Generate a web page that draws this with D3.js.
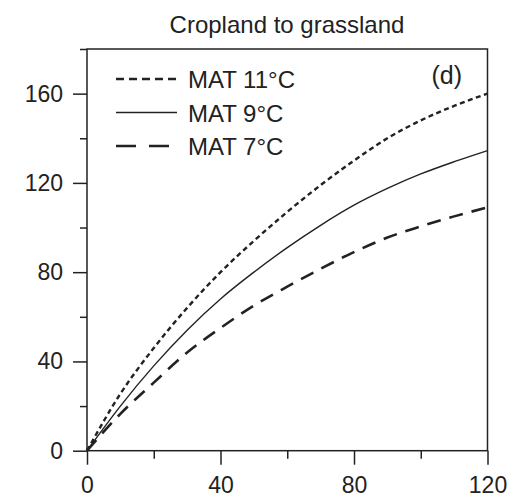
<!DOCTYPE html>
<html><head><meta charset="utf-8">
<script src="https://cdn.jsdelivr.net/npm/d3@7"></script>
<style>body{margin:0;background:#fff}</style>
</head><body>
<svg id="c" width="518" height="497"></svg>
<script>
const years = [0,10,20,30,40,50,60,70,80,90,100,110,120];
const mat11 = [0,25.5,46,64,80,94,107,119,130,140,148,154.5,160];
const mat9  = [0,20,38,54,68,80,91,101,110,117.5,124,129.5,134.5];
const mat7  = [0,16.5,30.5,44,55,65,73.5,81.5,89,95.5,100.5,105,109];
const seriesNames = ["MAT 11°C","MAT 9°C","MAT 7°C"];
const xMajor = [0,40,80,120], xMinor = [20,60,100];
const yMajor = [0,40,80,120,160], yMinor = [20,60,100,140,180];

const svg = d3.select("#c");
const font = "Liberation Sans, Arial, Helvetica, sans-serif";
const ink = "#222";
const x = d3.scaleLinear().domain([0,120]).range([87,487.5]);
const y = d3.scaleLinear().domain([0,180]).range([450.7,49]);

// frame
svg.append("rect").attr("x",x(0)).attr("y",y(180)).attr("width",x(120)-x(0)).attr("height",y(0)-y(180))
  .attr("fill","none").attr("stroke",ink).attr("stroke-width",1.5);

function styleAxis(g){ g.select(".domain").remove(); g.selectAll("line").attr("stroke",ink).attr("stroke-width",1.5);
  g.selectAll("text").attr("fill",ink).style("font-family",font).style("font-size","23px"); }

svg.append("g").attr("transform",`translate(0,${y(0)})`)
  .call(d3.axisBottom(x).tickValues(xMajor).tickSize(14).tickPadding(12).tickFormat(d3.format("d"))).call(styleAxis);
svg.append("g").attr("transform",`translate(0,${y(0)})`)
  .call(d3.axisBottom(x).tickValues(xMinor).tickSize(8).tickFormat("")).call(styleAxis);
svg.append("g").attr("transform",`translate(${x(0)},0)`)
  .call(d3.axisLeft(y).tickValues(yMajor).tickSize(14).tickPadding(10).tickFormat(d3.format("d"))).call(styleAxis);
svg.append("g").attr("transform",`translate(${x(0)},0)`)
  .call(d3.axisLeft(y).tickValues(yMinor).tickSize(7).tickFormat("")).call(styleAxis);

const styles = [
  {dash:"5,3.5", w:2.4, ldash:"8,5"},
  {dash:null, w:1.4, ldash:null},
  {dash:"14,9", w:2.6, ldash:"20,13"}
];
const data = [mat11, mat9, mat7];
const line = d3.line().x((d,i)=>x(years[i])).y(d=>y(d)).curve(d3.curveMonotoneX);
data.forEach((s,k)=>{
  svg.append("path").datum(s).attr("d",line).attr("fill","none").attr("stroke",ink)
    .attr("stroke-width",styles[k].w).attr("stroke-dasharray",styles[k].dash);
});

// legend
seriesNames.forEach((n,k)=>{
  const ly = 79 + k*33.5;
  svg.append("line").attr("x1",116).attr("x2",177).attr("y1",ly).attr("y2",ly)
    .attr("stroke",ink).attr("stroke-width",styles[k].w).attr("stroke-dasharray",styles[k].ldash);
  svg.append("text").attr("x",188).attr("y",ly+9).text(n).attr("fill",ink)
    .style("font-family",font).style("font-size","24px");
});

svg.append("text").attr("x",462).attr("y",84).attr("text-anchor","end").text("(d)").attr("fill",ink)
  .style("font-family",font).style("font-size","25px");
svg.append("text").attr("x",287).attr("y",33).attr("text-anchor","middle").text("Cropland to grassland").attr("fill",ink)
  .style("font-family",font).style("font-size","24px");
</script>
</body></html>
